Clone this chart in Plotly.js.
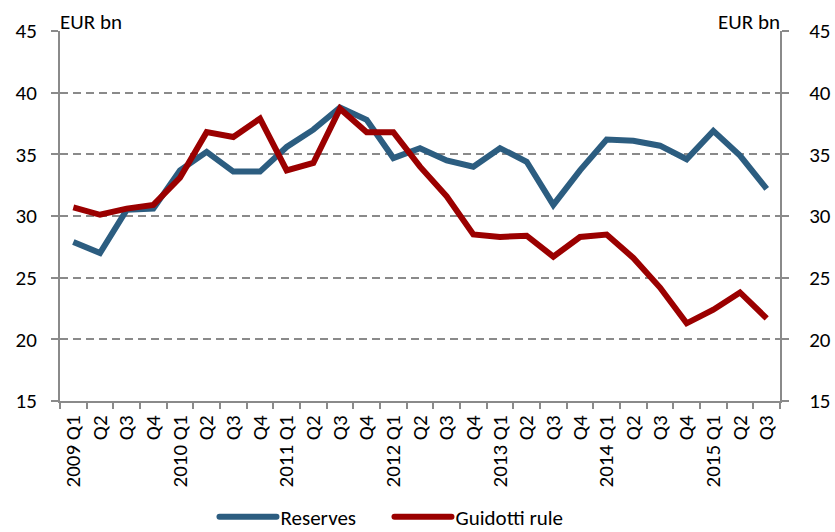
<!DOCTYPE html>
<html>
<head>
<meta charset="utf-8">
<script src="https://cdn.plot.ly/plotly-3.0.1.min.js"></script>
<style>body{margin:0;background:#fff}#chart{width:835px;height:532px}</style>
</head>
<body>
<div id="chart"></div>
<script>
const categories = ["2009 Q1","Q2","Q3","Q4","2010 Q1","Q2","Q3","Q4","2011 Q1","Q2","Q3","Q4","2012 Q1","Q2","Q3","Q4","2013 Q1","Q2","Q3","Q4","2014 Q1","Q2","Q3","Q4","2015 Q1","Q2","Q3"];
const reserves = [27.9,27.0,30.5,30.6,33.7,35.2,33.6,33.6,35.6,37.0,38.8,37.8,34.7,35.5,34.5,34.0,35.5,34.4,30.9,33.7,36.2,36.1,35.7,34.6,36.9,34.9,32.2];
const guidotti = [30.7,30.1,30.6,30.9,33.1,36.8,36.4,37.9,33.7,34.3,38.7,36.8,36.8,34.0,31.6,28.5,28.3,28.4,26.7,28.3,28.5,26.6,24.2,21.3,22.4,23.8,21.7];
const yTicks = [15,20,25,30,35,40,45];

const xIdx = categories.map((c,i)=>i);
const font = "Carlito, Lato, 'Open Sans', sans-serif";
const axisGrey = "#8a8a8a";

const traces = [
  {x: xIdx, y: reserves, type: "scatter", mode: "lines", name: "Reserves",
   line: {color: "#2C5D80", width: 6, shape: "linear"}},
  {x: xIdx, y: guidotti, type: "scatter", mode: "lines", name: "Guidotti rule",
   line: {color: "#9B0000", width: 6, shape: "linear"}},
  {x: xIdx, y: guidotti, type: "scatter", mode: "lines", yaxis: "y2",
   showlegend: false, hoverinfo: "skip", line: {color: "rgba(0,0,0,0)", width: 0}},
  {x: xIdx, y: reserves, xaxis: "x2", type: "scatter", mode: "lines", showlegend: false,
   hoverinfo: "skip", line: {color: "rgba(0,0,0,0)", width: 0}}
];

const layout = {
  width: 835, height: 532,
  margin: {l: 60, r: 55, t: 31, b: 131},
  paper_bgcolor: "#fff", plot_bgcolor: "#fff",
  font: {family: font, color: "#000", size: 21},
  showlegend: true,
  legend: {orientation: "h", x: 0.288, xref: "container", xanchor: "left",
           y: 0.028, yref: "container", yanchor: "middle",
           font: {size: 21}, tracegroupgap: 0, entrywidth: 130, entrywidthmode: "pixels"},
  xaxis: {
    type: "linear", range: [-0.5, 26.5], automargin: false,
    tickmode: "array", tickvals: xIdx, ticktext: categories,
    tickangle: -90, tickfont: {size: 21},
    showgrid: false, zeroline: false,
    showline: true, linecolor: axisGrey, linewidth: 2,
    ticks: "outside", ticklen: 4, tickcolor: "rgba(0,0,0,0)"
  },
  xaxis2: {
    overlaying: "x", range: [-0.5, 26.5], tickmode: "linear", tick0: -0.5, dtick: 1,
    showticklabels: false, ticks: "outside", ticklen: 7, tickcolor: axisGrey, tickwidth: 2,
    showgrid: false, zeroline: false, side: "bottom", anchor: "y", automargin: false
  },
  yaxis: {
    range: [15, 45], tickmode: "array", tickvals: yTicks, automargin: false,
    tickfont: {size: 21}, showgrid: true, gridcolor: axisGrey, griddash: "8px,5px", gridwidth: 2,
    zeroline: false, showline: true, linecolor: axisGrey, linewidth: 2,
    ticks: "outside", ticklen: 7, tickcolor: axisGrey, tickwidth: 2,
    ticklabelstandoff: 10
  },
  yaxis2: {
    overlaying: "y", side: "right", range: [15, 45], tickmode: "array", tickvals: yTicks,
    tickfont: {size: 21}, showgrid: false, zeroline: false, automargin: false,
    showline: true, linecolor: axisGrey, linewidth: 2,
    ticks: "outside", ticklen: 7, tickcolor: axisGrey, tickwidth: 2,
    ticklabelstandoff: 16
  },
  annotations: [
    {text: "EUR bn", xref: "paper", yref: "paper", x: 0, y: 1, xanchor: "left", yanchor: "bottom",
     showarrow: false, font: {size: 21}, xshift: -2, yshift: -6},
    {text: "EUR bn", xref: "paper", yref: "paper", x: 1, y: 1, xanchor: "right", yanchor: "bottom",
     showarrow: false, font: {size: 21}, xshift: 2, yshift: -6}
  ]
};

Plotly.newPlot("chart", traces, layout, {displayModeBar: false, staticPlot: true}).then(() => {
  document.querySelectorAll("#chart .legend [clip-path]").forEach(el => el.removeAttribute("clip-path"));
  document.querySelectorAll("#chart .legend .legendlines path").forEach(p => {
    p.setAttribute("d", "M-21,0h57");
    p.style.strokeLinecap = "round";
  });
});
</script>
</body>
</html>
